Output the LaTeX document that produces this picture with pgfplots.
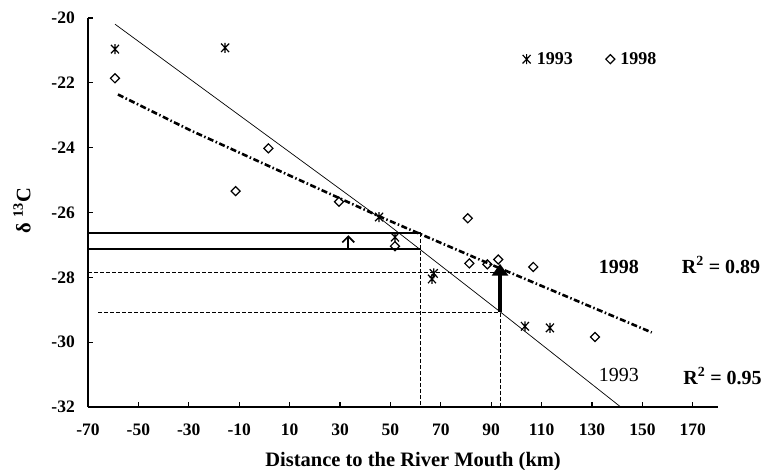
\documentclass[border=0pt]{standalone}
\usepackage{fontspec}
\setmainfont{Liberation Serif}
\usepackage{pgfplots}
\pgfplotsset{compat=1.18}
\usetikzlibrary{arrows.meta}
\pgfdeclareplotmark{xast}{%
  \pgfpathmoveto{\pgfqpoint{0pt}{-\pgfplotmarksize}}%
  \pgfpathlineto{\pgfqpoint{0pt}{\pgfplotmarksize}}%
  \pgfpathmoveto{\pgfqpoint{-0.8\pgfplotmarksize}{-0.85\pgfplotmarksize}}%
  \pgfpathlineto{\pgfqpoint{0.8\pgfplotmarksize}{0.85\pgfplotmarksize}}%
  \pgfpathmoveto{\pgfqpoint{-0.8\pgfplotmarksize}{0.85\pgfplotmarksize}}%
  \pgfpathlineto{\pgfqpoint{0.8\pgfplotmarksize}{-0.85\pgfplotmarksize}}%
  \pgfusepathqstroke}
\begin{document}
\begin{tikzpicture}
\useasboundingbox (-88pt,-62pt) rectangle (674pt,407pt);
\begin{axis}[
  at={(0pt,0pt)}, anchor=south west,
  scale only axis, width=630pt, height=389pt,
  xmin=-70, xmax=180, ymin=-32, ymax=-20,
  clip=false,
  axis x line*=bottom, axis y line*=left,
  axis line style={-, line width=1.4pt},
  xtick={-70,-50,...,170},
  xticklabels={-70,-50,-30,-10,10,30,50,70,90,110,130,150,170},
  ytick={-32,-30,...,-20},
  yticklabels={-32,-30,-28,-26,-24,-22,-20},
  tick align=inside, major tick length=5pt,
  tick style={line width=1.1pt, black},
  xticklabel style={anchor=base, yshift=-28pt, font=\fontsize{17.5}{19}\selectfont\bfseries},
  yticklabel style={anchor=east, inner sep=0pt, xshift=-13pt, font=\fontsize{17.5}{19}\selectfont\bfseries},
  xlabel={Distance to the River Mouth (km)},
  xlabel style={at={(rel axis cs:0.516,-0.1517)}, anchor=base, font=\fontsize{20.5}{23}\selectfont\bfseries},
  ylabel={δ \textsuperscript{13}C},
  ylabel style={at={(rel axis cs:-0.1048,0.505)}, anchor=center, font=\fontsize{20.5}{23}\selectfont\bfseries},
  legend style={at={(axis cs:102.4,-21.27)}, anchor=west, draw=none, fill=none,
    inner sep=0pt, outer sep=0pt,
    font=\fontsize{18}{20}\selectfont\bfseries,
    /tikz/every even column/.append style={column sep=31pt}},
  legend columns=2,
  legend image code/.code={\path (0.06cm,0cm) (0.48cm,0cm);\draw[mark repeat=2,mark phase=2,#1] plot coordinates {(0cm,0cm) (0.2cm,0cm) (0.4cm,0cm)};},
]
% reference lines
\addplot[black, line width=1.3pt, forget plot] coordinates {(-70,-26.63) (62,-26.63)};
\addplot[black, line width=1.3pt, forget plot] coordinates {(-70,-27.13) (62,-27.13)};
\addplot[black, line width=1pt, dash pattern=on 4pt off 2pt, forget plot] coordinates {(-70,-27.85) (93,-27.85)};
\addplot[black, line width=1pt, dash pattern=on 4pt off 2pt, forget plot] coordinates {(-66,-29.09) (93.5,-29.09)};
\addplot[black, line width=1pt, dash pattern=on 4pt off 2pt, forget plot] coordinates {(62,-26.63) (62,-32)};
\addplot[black, line width=1pt, dash pattern=on 4pt off 2pt, forget plot] coordinates {(93.5,-29.09) (93.5,-32)};
% arrows
\addplot[black, line width=1.7pt, -{Straight Barb[length=6pt,width=12pt]}, forget plot] coordinates {(33.3,-27.13) (33.3,-26.7)};
\addplot[black, line width=3.2pt, -{Triangle[length=12pt,width=16pt]}, forget plot] coordinates {(93.5,-29.07) (93.5,-27.58)};
% trend lines
\addplot[black, line width=0.7pt, forget plot] coordinates {(-59.3,-20.19) (45.9,-26.18) (93.5,-29.06) (141.4,-32)};
\addplot[black, line width=2.6pt, dash pattern=on 6pt off 2.5pt on 1.5pt off 2.5pt, forget plot] coordinates {(-58.1,-22.36) (-29.5,-23.46) (45.9,-26.13) (92.2,-27.68) (153.7,-29.70)};
% data
\addplot[only marks, mark=xast, mark size=5pt, mark options={line width=1.2pt, black}] coordinates {
(-59.3,-20.96) (-15.6,-20.92) (45.5,-26.14) (51.8,-26.76) (66.5,-28.05) (67.2,-27.88) (103.4,-29.51) (113.3,-29.56)};
\addlegendentry{1993}
\addplot[only marks, mark=square, mark size=3.2pt, mark options={rotate=45, line width=1.2pt, black}] coordinates {
(-59.3,-21.86) (-11.4,-25.34) (1.6,-24.02) (29.6,-25.67) (51.8,-27.04) (80.7,-26.18) (81.3,-27.57) (88.5,-27.6) (92.8,-27.45) (106.7,-27.68) (131.2,-29.84)};
\addlegendentry{1998}
% annotations
\node[font=\fontsize{20}{22}\selectfont\bfseries] at (axis cs:140.7,-27.68) {1998};
\node[font=\fontsize{20}{22}\selectfont\bfseries] at (axis cs:181.2,-27.62) {R\textsuperscript{2} = 0.89};
\node[font=\fontsize{20}{22}\selectfont] at (axis cs:140.7,-31.02) {1993};
\node[font=\fontsize{20}{22}\selectfont\bfseries] at (axis cs:181.8,-31.05) {R\textsuperscript{2} = 0.95};
\end{axis}
\end{tikzpicture}
\end{document}
